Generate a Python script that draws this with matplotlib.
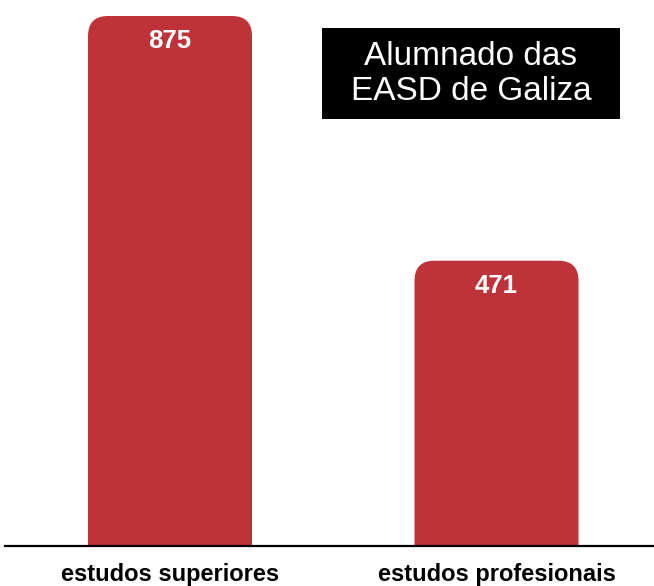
import numpy as np
import matplotlib.pyplot as plt
from matplotlib.patches import FancyBboxPatch, Rectangle

categories = ["estudos superiores", "estudos profesionais"]
values = [875, 471]
title_text = "Alumnado das\nEASD de Galiza"

bar_color = "#BE323A"
W, H = 654, 586

fig = plt.figure(figsize=(W / 100, H / 100), dpi=100)
plt.rcParams['font.family'] = ['Liberation Sans', 'DejaVu Sans']

# axes spans from the baseline (y=546) up to the top of the tallest bar (y=16)
ax = fig.add_axes([0, (H - 546) / H, 1, 530 / H])
x = np.arange(len(categories))
unit = 326.5  # px between bar centres
ax.set_xlim(-170 / unit, (W - 170) / unit)
ax.set_ylim(0, max(values))
bar_w = 164 / unit

# rounding radius in px, converted to data units
r_px = 20
px_x = (ax.get_xlim()[1] - ax.get_xlim()[0]) / W
px_y = max(values) / 530
for xi, v in zip(x, values):
    p = FancyBboxPatch((xi - bar_w / 2, -r_px * px_y), bar_w, v + r_px * px_y,
                       boxstyle=f"round,pad=0,rounding_size={r_px * px_x}",
                       mutation_aspect=px_y / px_x,
                       fc=bar_color, ec="none")
    ax.add_patch(p)
    ax.annotate(str(v), (xi, v), xytext=(0, -18), textcoords="offset points",
                ha="center", va="center", color="white",
                fontsize=18.5, fontweight="bold")

ax.axhline(0, xmin=5 / W, xmax=1, color="black", lw=1.6, clip_on=False)

ax.set_xticks(x)
ax.set_xticklabels(categories, fontsize=17, fontweight="bold")
ax.tick_params(axis="x", length=0, pad=12.5)
ax.set_yticks([])
for s in ax.spines.values():
    s.set_visible(False)
ax.patch.set_alpha(0)

# title box
fig.patches.append(Rectangle((322 / W, 1 - 119 / H), 298 / W, 91 / H,
                             transform=fig.transFigure, fc="black", ec="none"))
fig.text(471 / W, 1 - 74 / H, title_text, ha="center", va="center",
         color="white", fontsize=24, linespacing=1.15)

fig.savefig("out.png", dpi=100)
